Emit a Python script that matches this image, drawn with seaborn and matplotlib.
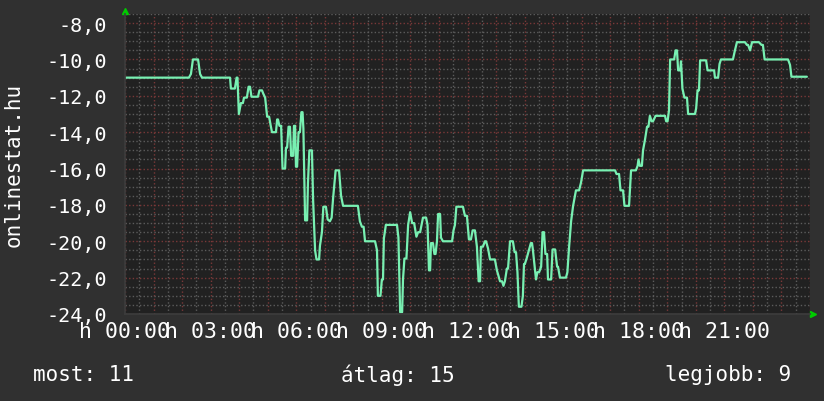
import numpy as np
import pandas as pd
import matplotlib
matplotlib.use("Agg")
import matplotlib.pyplot as plt
import seaborn as sns

# ---- data (hours since 00:00, rank value) ----
hours = [0.00, 2.24, 2.31, 2.38, 2.56, 2.63, 2.70, 3.68, 3.71, 3.85, 3.91, 3.94, 3.99,
         4.06, 4.13, 4.17, 4.27, 4.33, 4.38, 4.43, 4.66, 4.71, 4.80, 4.85, 4.91, 4.98,
         5.05, 5.10, 5.15, 5.29, 5.33, 5.36, 5.41, 5.47, 5.52, 5.61, 5.64, 5.68, 5.73,
         5.78, 5.82, 5.89, 5.92, 5.96, 5.99, 6.03, 6.08, 6.13, 6.18, 6.22, 6.25, 6.31,
         6.38, 6.41, 6.46, 6.55, 6.59, 6.66, 6.71, 6.80, 6.83, 6.90, 6.95, 7.04, 7.10,
         7.18, 7.24, 7.29, 7.38, 7.50, 7.57, 7.64, 8.16, 8.23, 8.30, 8.36, 8.41, 8.76,
         8.83, 8.86, 8.95, 9.00, 9.04, 9.07, 9.14, 9.53, 9.58, 9.64, 9.71, 9.74, 9.79,
         9.86, 9.92, 9.99, 10.06, 10.13, 10.21, 10.27, 10.34, 10.39, 10.44, 10.55, 10.60,
         10.65, 10.69, 10.72, 10.79, 10.84, 10.88, 10.93, 10.97, 11.04, 11.07, 11.14,
         11.46, 11.51, 11.56, 11.61, 11.84, 11.91, 11.98, 12.05, 12.12, 12.18, 12.26,
         12.33, 12.39, 12.44, 12.47, 12.54, 12.61, 12.65, 12.72, 12.79, 12.96, 13.03,
         13.14, 13.21, 13.26, 13.31, 13.38, 13.42, 13.49, 13.59, 13.65, 13.70, 13.75,
         13.80, 13.89, 13.94, 13.98, 14.01, 14.08, 14.15, 14.22, 14.26, 14.29, 14.40,
         14.45, 14.51, 14.58, 14.63, 14.68, 14.73, 14.79, 14.82, 14.93, 14.98, 15.07,
         15.14, 15.17, 15.24, 15.45, 15.50, 15.56, 15.63, 15.70, 15.80, 15.91, 15.98,
         16.05, 17.17, 17.22, 17.31, 17.36, 17.45, 17.50, 17.66, 17.73, 17.90, 17.96,
         17.99, 18.04, 18.11, 18.15, 18.22, 18.29, 18.34, 18.39, 18.45, 18.50, 18.59,
         18.92, 18.96, 19.01, 19.06, 19.10, 19.24, 19.29, 19.34, 19.38, 19.45, 19.48,
         19.53, 19.60, 19.69, 19.73, 19.97, 20.01, 20.06, 20.11, 20.15, 20.36, 20.41,
         20.64, 20.67, 20.78, 20.83, 20.88, 21.30, 21.37, 21.44, 21.72, 21.79, 21.83,
         21.90, 21.97, 22.21, 22.30, 22.35, 22.41, 23.23, 23.30, 23.35, 23.89]

values = [-11.0, -11.0, -10.8, -10.0, -10.0, -10.8, -11.0, -11.0, -11.6, -11.6, -11.0, -11.0, -13.0,
          -12.4, -12.4, -12.1, -12.1, -11.5, -11.5, -12.05, -12.05, -11.7, -11.7, -11.9, -12.1, -13.15,
          -13.15, -13.6, -14.0, -14.0, -13.3, -13.3, -13.65, -13.65, -16.0, -16.0, -14.85, -14.85, -13.7,
          -13.7, -15.3, -15.3, -13.65, -13.65, -15.9, -15.9, -14.0, -14.0, -12.9, -12.9, -13.8, -18.85,
          -18.85, -16.8, -15.0, -15.0, -17.7, -20.5, -21.0, -21.0, -20.25, -19.5, -18.1, -18.1, -18.8,
          -18.9, -18.7, -17.65, -16.1, -16.1, -17.5, -18.05, -18.05, -18.9, -19.2, -19.2, -20.0, -20.0,
          -20.5, -23.0, -23.0, -22.1, -22.1, -19.85, -19.1, -19.1, -19.8, -23.9, -23.9, -22.1, -20.95,
          -20.95, -19.1, -18.4, -19.0, -19.0, -19.75, -19.5, -19.5, -19.1, -18.7, -18.7, -19.1,
          -21.6, -21.6, -20.1, -20.1, -20.7, -20.7, -20.0, -18.5, -18.5, -19.8, -20.0,
          -20.0, -19.4, -19.1, -18.1, -18.1, -18.6, -18.6, -19.9, -19.9, -19.4, -19.4,
          -20.3, -22.2, -22.2, -20.3, -20.3, -20.0, -20.0, -20.4, -21.0, -21.0, -21.6,
          -22.2, -22.2, -22.45, -22.2, -21.5, -21.5, -20.0, -20.0, -20.6, -20.6, -21.7,
          -23.6, -23.6, -23.0, -21.25, -21.25, -20.9, -20.5, -20.1, -20.1, -20.45, -22.1,
          -21.7, -21.7, -21.4, -19.5, -19.5, -20.7, -20.7, -22.1, -22.1, -20.45, -20.45,
          -21.4, -21.4, -22.0, -22.0, -21.7, -20.3, -18.9, -18.05, -17.2, -17.2, -16.75,
          -16.1, -16.1, -16.3, -16.3, -17.2, -17.2, -18.05, -18.05, -16.1, -16.1, -15.85,
          -15.5, -15.85, -15.85, -15.0, -14.4, -13.7, -13.7, -13.1, -13.4, -13.4, -13.1,
          -13.1, -13.4, -13.4, -12.8, -10.0, -10.0, -9.5, -9.5, -10.6, -10.6, -10.1,
          -11.6, -12.1, -12.1, -13.0, -13.0, -12.7, -11.7, -11.7, -10.05, -10.05, -10.6,
          -10.6, -11.0, -11.0, -10.25, -10.0, -10.0, -9.5, -9.05, -9.05, -9.2, -9.2,
          -9.5, -9.05, -9.05, -9.2, -9.2, -10.0, -10.0, -10.3, -10.95, -10.95]

x_label_hours = [0, 3, 6, 9, 12, 15, 18, 21]
x_tick_labels = ["h 00:00", "h 03:00", "h 06:00", "h 09:00",
                 "h 12:00", "h 15:00", "h 18:00", "h 21:00"]
y_ticks = [-24, -22, -20, -18, -16, -14, -12, -10, -8]
y_label = "onlinestat.hu"
legend_texts = ["most: 11", "átlag: 15", "legjobb: 9"]

# ---- style ----
OUTER = "#303030"
INNER = "#212121"
LINE = "#78f0b2"
sns.set_theme(style="dark")
plt.rcParams["font.family"] = ["DejaVu Sans Mono", "DejaVu Sans"]

fig = plt.figure(figsize=(8.24, 4.02), dpi=100, facecolor=OUTER)
ax = fig.add_axes([125 / 824, 1 - 315 / 402, 685 / 824, 300 / 402])
ax.set_facecolor(INNER)

df = pd.DataFrame({"h": hours, "v": values})
sns.lineplot(data=df, x="h", y="v", ax=ax, color=LINE, linewidth=1.6,
             estimator=None, sort=False)

ax.set_xlim(0, 24)
ax.set_ylim(-24, -7.5)

# ticks / grid
ax.set_xticks(np.arange(0, 24.01, 1))
lab_map = dict(zip(x_label_hours, x_tick_labels))
ax.set_xticklabels([lab_map.get(int(t), "") for t in np.arange(0, 24.01, 1)])
ax.set_xticks(np.arange(0, 24.01, 0.5), minor=True)
ax.set_yticks(y_ticks)
ax.set_yticklabels([f"{t:.1f}".replace(".", ",") for t in y_ticks])
ax.set_yticks(np.arange(-24, -7.49, 0.5), minor=True)

ax.grid(which="minor", color="#5c5c5c", linestyle=(0, (1, 1.6)), linewidth=1.0)
ax.grid(which="major", color="#7a3838", linestyle=(0, (1, 1.6)), linewidth=1.0)
ax.set_axisbelow(True)

ax.tick_params(axis="both", which="major", colors="white",
               length=3, color="#8a3030", direction="out")
ax.tick_params(axis="both", which="minor", length=2, color="#555555")
ax.tick_params(axis="x", which="major", pad=2, labelsize=15.5)
ax.tick_params(axis="y", which="major", pad=10, labelsize=14.5)

for s in ["top", "right"]:
    ax.spines[s].set_visible(False)
ax.spines["left"].set_color("#3c3c3c")
ax.spines["bottom"].set_color("#3c3c3c")
ax.set_xlabel("")
ax.set_ylabel("")

# axis arrows
ax.plot([0], [1.01], marker="^", color="#00cc00", markersize=4,
        transform=ax.transAxes, clip_on=False)
ax.plot([1.005], [0.0], marker=">", color="#00cc00", markersize=4,
        transform=ax.transAxes, clip_on=False)

fig.text(14 / 824, 1 - 165 / 402, y_label, rotation=90, ha="center", va="center",
         color="white", fontsize=15)
fig.text(33 / 824, 1 - 375 / 402, legend_texts[0], ha="left", va="center",
         color="white", fontsize=15)
fig.text(341 / 824, 1 - 375 / 402, legend_texts[1], ha="left", va="center",
         color="white", fontsize=15)
fig.text(791 / 824, 1 - 375 / 402, legend_texts[2], ha="right", va="center",
         color="white", fontsize=15)

fig.savefig("out.png", dpi=100, facecolor=OUTER)
